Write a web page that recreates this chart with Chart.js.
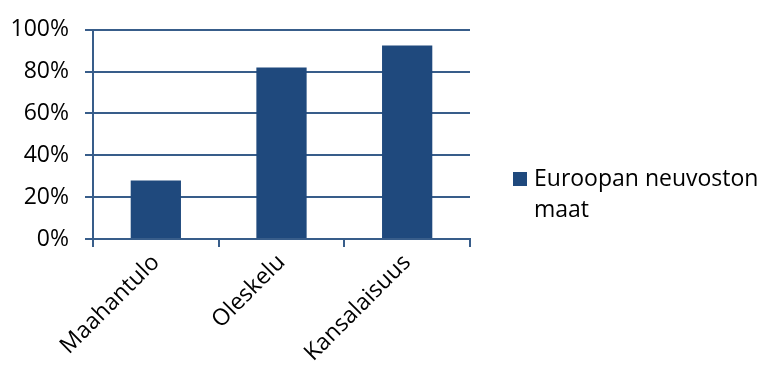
<!DOCTYPE html>
<html>
<head>
<meta charset="utf-8">
<script src="https://cdn.jsdelivr.net/npm/chart.js@4"></script>
<style>
  html, body { margin: 0; padding: 0; background: #fff; }
  #wrap { width: 761px; height: 367px; }
</style>
</head>
<body>
<div id="wrap"><canvas id="grafico" width="761" height="367"></canvas></div>
<script>
const categorias = ["Maahantulo", "Oleskelu", "Kansalaisuus"];
const valores = [28, 82, 92.5];
const nombreSerie = ["Euroopan neuvoston", "maat"];
const ticksY = [0, 20, 40, 60, 80, 100];

const azul = "#1F497D";
const lineas = "#385D8A";
const fuente = "'Open Sans', 'Noto Sans', sans-serif";

// leyenda a dos líneas dibujada a mano
const leyenda = {
  id: "leyenda",
  afterDraw(chart) {
    const ctx = chart.ctx;
    ctx.save();
    ctx.fillStyle = azul;
    ctx.fillRect(513, 172, 14, 14);
    ctx.fillStyle = "#000";
    ctx.font = "23px " + fuente;
    ctx.textBaseline = "middle";
    ctx.textAlign = "left";
    nombreSerie.forEach((t, i) => ctx.fillText(t, 534, 179 + i * 31));
    ctx.restore();
  }
};

new Chart(document.getElementById("grafico"), {
  type: "bar",
  data: {
    labels: categorias,
    datasets: [{
      label: nombreSerie.join(" "),
      data: valores,
      backgroundColor: azul,
      borderWidth: 0,
      categoryPercentage: 1,
      barPercentage: 0.4
    }]
  },
  options: {
    responsive: false,
    animation: false,
    layout: { padding: { left: 0, right: 291, top: 25, bottom: 0 } },
    plugins: {
      legend: { display: false },
      tooltip: { enabled: false }
    },
    scales: {
      x: {
        afterFit: s => { s.height = 128; },
        grid: { offset: true, drawOnChartArea: false, tickLength: 8, color: lineas, lineWidth: 2 },
        border: { color: lineas, width: 2 },
        ticks: {
          color: "#000",
          font: { family: fuente, size: 23 },
          minRotation: 45,
          maxRotation: 45,
          padding: 2
        }
      },
      y: {
        min: 0,
        max: 100,
        afterFit: s => { s.width = 93; },
        afterBuildTicks: s => { s.ticks = ticksY.map(v => ({ value: v })); },
        grid: { tickLength: 8, color: lineas, lineWidth: 2 },
        border: { color: lineas, width: 2 },
        ticks: {
          color: "#000",
          font: { family: fuente, size: 23 },
          padding: 16,
          callback: v => v + "%"
        }
      }
    }
  },
  plugins: [leyenda]
});
</script>
</body>
</html>
